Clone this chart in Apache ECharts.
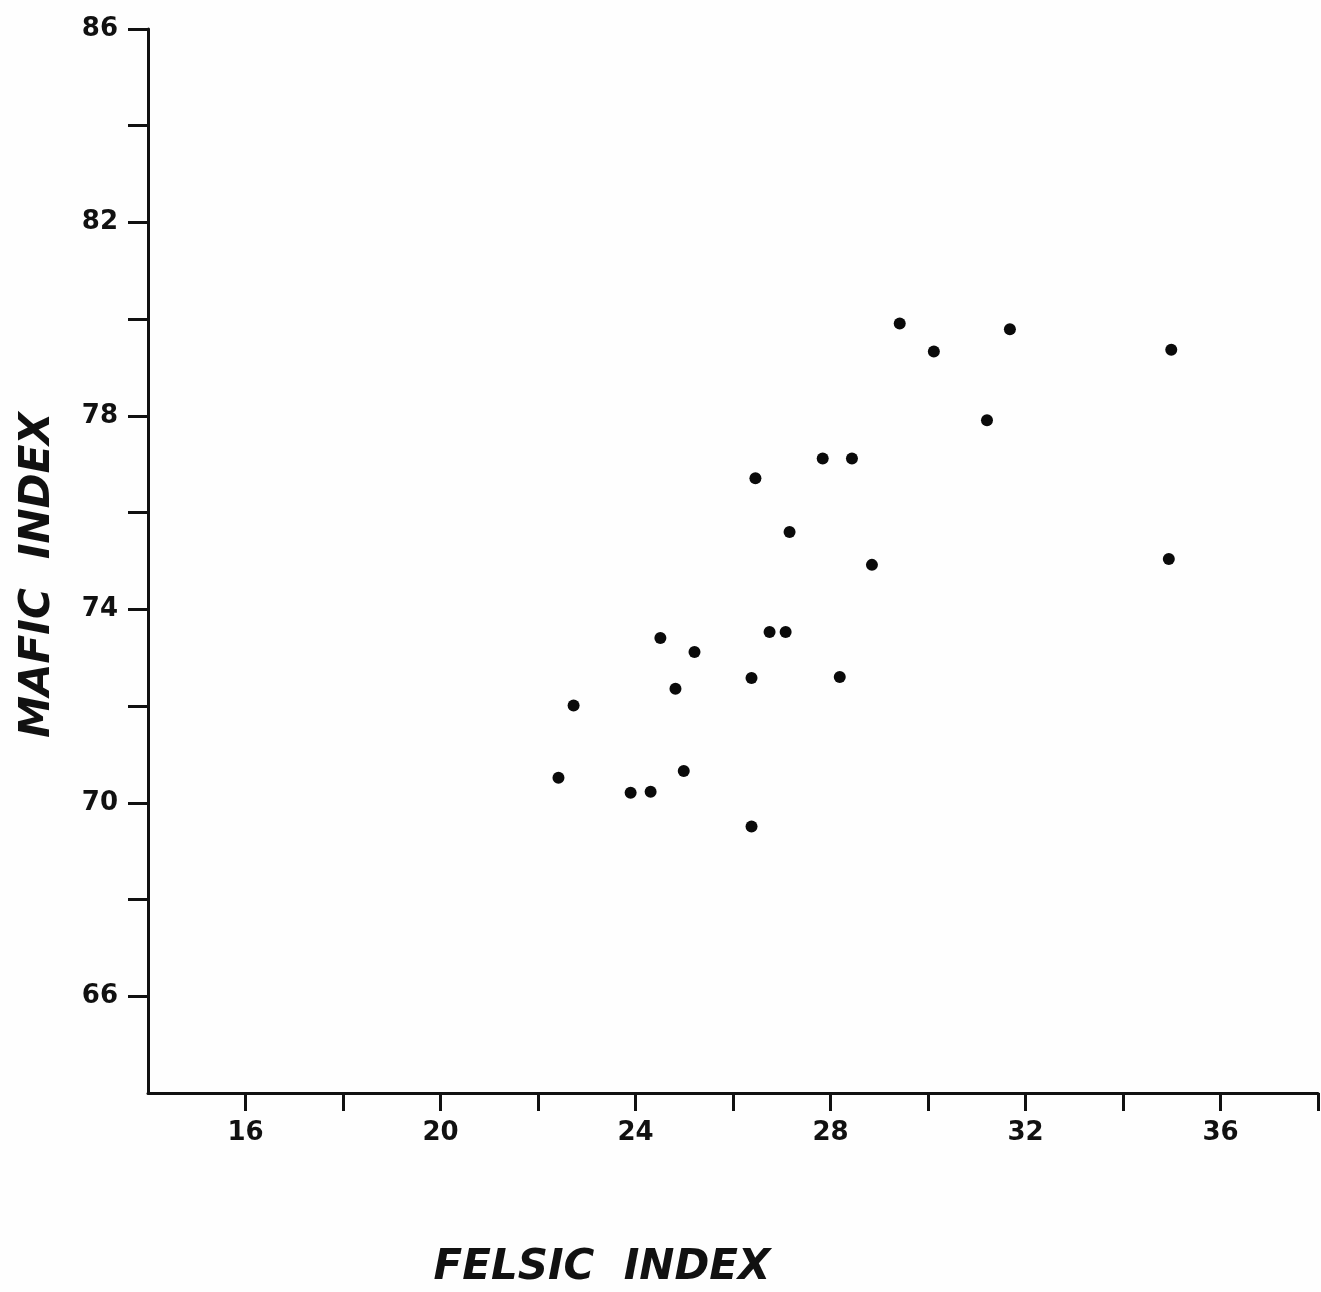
<!DOCTYPE html>
<html>
<head>
<meta charset="utf-8">
<title>Mafic vs Felsic Index</title>
<script src="https://cdn.jsdelivr.net/npm/echarts@6/dist/echarts.min.js"></script>
<style>
  html, body { margin: 0; padding: 0; background: #fefefe; }
  #chart { width: 1321px; height: 1292px; }
</style>
</head>
<body>
<div id="chart"></div>
<script>
// Felsic index (x) and mafic index (y) for each sample
const felsic = [29.42, 30.12, 31.68, 34.99, 31.21, 27.84, 28.44, 26.46, 27.16, 28.85, 34.94,
                24.51, 25.21, 26.75, 27.08, 24.82, 26.38, 28.19, 22.73, 22.42, 23.90, 24.31, 24.99, 26.38];
const mafic  = [79.91, 79.33, 79.79, 79.37, 77.91, 77.12, 77.12, 76.71, 75.60, 74.92, 75.04,
                73.41, 73.12, 73.53, 73.53, 72.36, 72.58, 72.60, 72.01, 70.52, 70.21, 70.23, 70.66, 69.51];

// Tick marks and labelled ticks on each axis
const xTicks  = [16, 18, 20, 22, 24, 26, 28, 30, 32, 34, 36, 38];
const xLabels = [16, 20, 24, 28, 32, 36];
const yTicks  = [66, 68, 70, 72, 74, 76, 78, 80, 82, 84, 86];
const yLabels = [66, 70, 74, 78, 82, 86];

const xTitle = 'FELSIC  INDEX';
const yTitle = 'MAFIC  INDEX';

const points = felsic.map((x, i) => [x, mafic[i]]);

const ink = '#111';
const labelFont = { color: ink, fontSize: 26, fontWeight: 'bold', fontFamily: 'DejaVu Sans, Arial, sans-serif' };
const titleStyle = {
  fill: ink, fontSize: 42, fontWeight: 'bold', fontStyle: 'italic',
  fontFamily: 'DejaVu Sans, Arial, sans-serif', align: 'center', verticalAlign: 'middle'
};

const chart = echarts.init(document.getElementById('chart'), null, { renderer: 'canvas' });
chart.setOption({
  backgroundColor: '#fefefe',
  animation: false,
  grid: { left: 148, right: 3, top: 29, bottom: 199, containLabel: false, outerBoundsMode: 'none' },
  xAxis: {
    type: 'value',
    min: 14, max: 38, interval: 2,
    axisLine: { show: true, onZero: false, lineStyle: { color: ink, width: 3 } },
    axisTick: { show: true, inside: false, length: 18, customValues: xTicks, lineStyle: { color: ink, width: 3 } },
    axisLabel: Object.assign({ margin: 27, customValues: xLabels }, labelFont),
    splitLine: { show: false }
  },
  yAxis: {
    type: 'value',
    min: 64, max: 86, interval: 2,
    axisLine: { show: true, onZero: false, lineStyle: { color: ink, width: 3 } },
    axisTick: { show: true, inside: false, length: 20, customValues: yTicks, lineStyle: { color: ink, width: 3 } },
    axisLabel: Object.assign({ margin: 30, customValues: yLabels }, labelFont),
    splitLine: { show: false }
  },
  graphic: [
    { type: 'text', x: 602, y: 1268, style: Object.assign({ text: xTitle }, titleStyle) },
    { type: 'text', x: 38, y: 575, rotation: Math.PI / 2, style: Object.assign({ text: yTitle }, titleStyle) }
  ],
  series: [{
    type: 'scatter',
    data: points,
    symbol: 'circle',
    symbolSize: 12,
    itemStyle: { color: '#0a0a0a', opacity: 1 }
  }]
});
</script>
</body>
</html>
